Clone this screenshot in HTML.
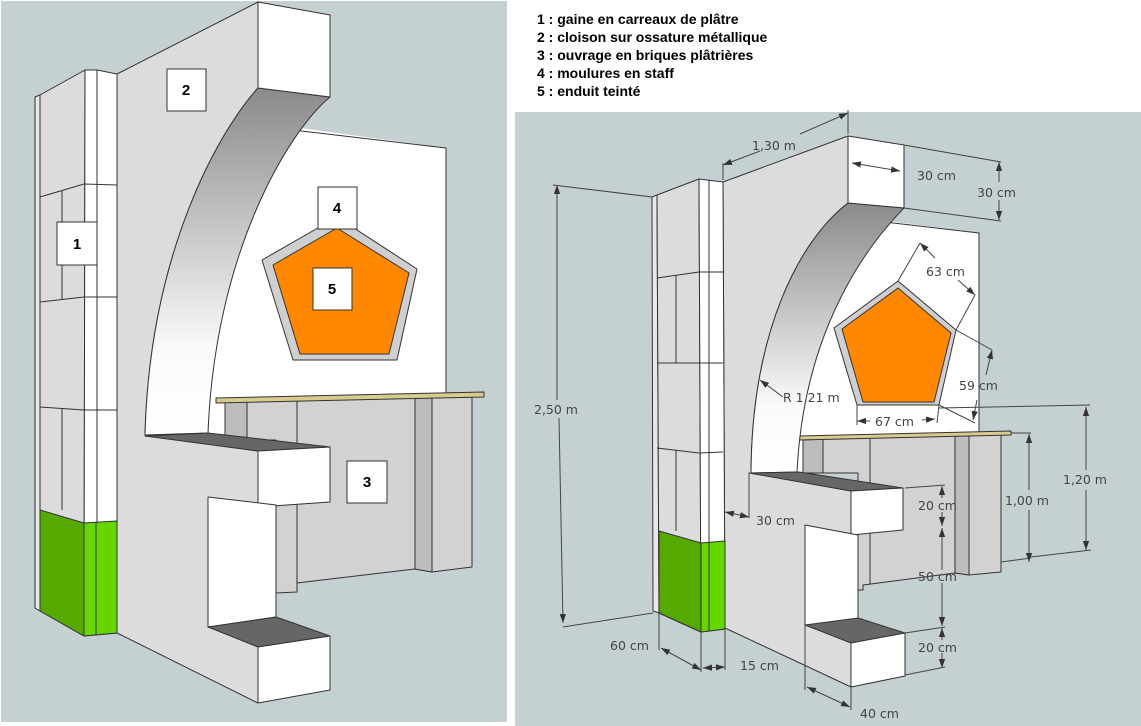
<!DOCTYPE html>
<html><head><meta charset="utf-8"><style>
html,body{margin:0;padding:0;background:#fff;width:1141px;height:726px;overflow:hidden}
svg{display:block}
.lg{font-family:"Liberation Sans",sans-serif;font-weight:bold;font-size:14px;fill:#000}
.dm{font-family:"DejaVu Sans","Liberation Sans",sans-serif;font-size:12.5px;fill:#444}
.lb{font-family:"Liberation Sans",sans-serif;font-weight:bold;font-size:15px;fill:#000}
</style></head><body>
<svg width="1141" height="726" viewBox="0 0 1141 726" xmlns="http://www.w3.org/2000/svg">
<defs>
<linearGradient id="gi" x1="0" y1="0" x2="0" y2="1"><stop offset="0" stop-color="#8a8a8a"/><stop offset="0.75" stop-color="#fafafa"/><stop offset="1" stop-color="#fff"/></linearGradient>
<marker id="a" viewBox="0 0 10 10" refX="10" refY="5" markerWidth="9" markerHeight="9" orient="auto-start-reverse" markerUnits="userSpaceOnUse"><path d="M0,1.5 L10,5 L0,8.5 Z" fill="#333"/></marker>
</defs>
<rect x="0" y="0" width="1141" height="726" fill="#fff"/>
<rect x="1" y="1" width="506" height="721" fill="#c5d0d2"/>
<rect x="515" y="112" width="626" height="614" fill="#c5d0d2"/>

<text class="lg" x="537" y="24">1 : gaine en carreaux de plâtre</text>
<text class="lg" x="537" y="42">2 : cloison sur ossature métallique</text>
<text class="lg" x="537" y="60">3 : ouvrage en briques plâtrières</text>
<text class="lg" x="537" y="78">4 : moulures en staff</text>
<text class="lg" x="537" y="96">5 : enduit teinté</text>

<g stroke="#333" stroke-width="1" stroke-linejoin="round">
<!-- ===== LEFT ===== -->
<polygon points="258,90 300,100 300,128 446,148 446,400 225,400 225,440 145,440" fill="#fff" stroke="none"/>
<polyline points="293,130 446,148 446,398" fill="none"/>
<polygon points="225,401 472,397 472,567 432,572 415,569 297,583 297,592 276,593 276,440 225,440" fill="#d2d2d2"/>
<polygon points="225,401 247,401 247,440 225,440" fill="#bdbdbd"/>
<polygon points="415,398 432,398 432,572 415,569" fill="#bdbdbd"/>
<line x1="297" y1="401" x2="297" y2="592"/>
<polygon points="216,398 484,392 484,397 216,403" fill="#d6cc8e"/>
<polygon points="262,260 337,217 417,269 397,360 293,360" fill="#cfcfcf"/>
<polygon points="273,265 337,228 409,273 389,354 300,354" fill="#ff8800"/>
<path d="M117,74 L258,2 L258,88 C220,130 150,250 145,435 L258,451 L258,703 L117,633 Z" fill="#dcdcdc"/>
<path d="M258,88 L330,97 C290,130 215,250 208,433 L145,435 C150,250 220,130 258,88 Z" fill="url(#gi)"/>
<polygon points="258,2 330,15 330,97 258,88" fill="#fff"/>
<polygon points="145,436 208,433 330,447 258,451" fill="#666"/>
<polygon points="258,451 330,447 330,502 258,507" fill="#fff"/>
<polygon points="208,497 276,505 276,617 208,627" fill="#fff"/>
<polygon points="208,627 276,617 330,636 258,647" fill="#666"/>
<polygon points="258,647 330,636 330,690 258,703" fill="#fff"/>
<polygon points="35,97 40,95 40,611 35,608" fill="#e8e8e8"/>
<polygon points="40,95 85,70 84,636 40,611" fill="#dcdcdc"/>
<polygon points="85,70 97,70 117,74 117,633 84,636" fill="#fff"/>
<line x1="97" y1="70" x2="97" y2="634"/>
<polyline points="40,197 84,184 117,185" fill="none"/>
<polyline points="40,302 84,297 117,297" fill="none"/>
<polyline points="40,407 84,410 117,410" fill="none"/>
<line x1="62" y1="191" x2="62" y2="300"/>
<line x1="62" y1="408" x2="62" y2="510"/>
<polygon points="40,510 84,523 84,636 40,611" fill="#55aa00"/>
<polygon points="84,523 117,521 117,633 84,636" fill="#66d600"/>
<line x1="96" y1="522" x2="96" y2="635"/>

<!-- ===== RIGHT ===== -->
<polygon points="848,205 880,210 880,220 979,233 979,436 803,438 803,473 751,473" fill="#fff" stroke="none"/>
<polyline points="885,222 979,233 979,436" fill="none"/>
<polygon points="803,440 1001,433 1001,572 969,575 955,573 863,585 863,590 858,590 858,473 803,473" fill="#d2d2d2"/>
<polygon points="803,440 823,439 823,473 803,473" fill="#bdbdbd"/>
<polygon points="955,434 969,434 969,575 955,573" fill="#bdbdbd"/>
<line x1="870" y1="437" x2="870" y2="584"/>
<polygon points="799,436 1011,431 1011,435 799,440" fill="#d6cc8e"/>
<polygon points="834,328 898,281 956,330 939,405 857,405" fill="#cfcfcf"/>
<polygon points="842,329 898,288 951,333 934,402 863,402" fill="#ff8800"/>
<path d="M723,182 L848,136 L848,203 C800,240 752,330 751,473 L851,491 L851,687 L725,628 Z" fill="#dcdcdc"/>
<path d="M848,203 L904,208 C885,228 805,310 797,472 L751,473 C752,330 800,240 848,203 Z" fill="url(#gi)"/>
<polygon points="848,136 904,145 904,208 848,203" fill="#fff"/>
<polygon points="749,473 799,472 903,488 851,491" fill="#666"/>
<polygon points="851,491 903,488 903,530 851,535" fill="#fff"/>
<polygon points="805,525 858,535 858,625 805,625" fill="#fff"/>
<polygon points="805,625 858,618 905,633 851,643" fill="#666"/>
<polygon points="851,643 905,633 905,676 851,687" fill="#fff"/>
<polygon points="652,197 657,195 659,613 653,611" fill="#e8e8e8"/>
<polygon points="657,195 699,179 701,632 659,613" fill="#dcdcdc"/>
<polygon points="699,179 723,182 725,629 701,632" fill="#fff"/>
<line x1="709" y1="180" x2="709" y2="631"/>
<polyline points="657,278 699,272 723,272" fill="none"/>
<polyline points="657,363 699,363 723,363" fill="none"/>
<polyline points="657,448 699,453 723,452" fill="none"/>
<line x1="676" y1="275" x2="676" y2="363"/>
<line x1="676" y1="450" x2="676" y2="531"/>
<polygon points="659,531 701,543 701,632 659,613" fill="#55aa00"/>
<polygon points="701,543 725,541 725,629 701,632" fill="#66d600"/>
<line x1="709" y1="542" x2="709" y2="631"/>
</g>

<!-- DIMENSIONS -->
<g stroke="#444" stroke-width="1" fill="none">
<line x1="723" y1="180" x2="723" y2="163"/><line x1="848" y1="134" x2="848" y2="110"/>
<line x1="760" y1="151" x2="723" y2="165" marker-end="url(#a)"/><line x1="800" y1="134" x2="848" y2="113" marker-end="url(#a)"/>
<line x1="852" y1="163" x2="900" y2="171" marker-start="url(#a)" marker-end="url(#a)"/>
<line x1="904" y1="145" x2="1001" y2="162"/><line x1="904" y1="208" x2="1001" y2="221"/>
<line x1="999" y1="182" x2="999" y2="162" marker-end="url(#a)"/><line x1="999" y1="200" x2="999" y2="220" marker-end="url(#a)"/>
<line x1="553" y1="185" x2="652" y2="197"/><line x1="557" y1="400" x2="557" y2="185" marker-end="url(#a)"/><line x1="559" y1="418" x2="563" y2="623" marker-end="url(#a)"/>
<line x1="563" y1="627" x2="653" y2="613"/>
<line x1="898" y1="281" x2="920" y2="243"/><line x1="935" y1="258" x2="920" y2="243" marker-end="url(#a)"/><line x1="958" y1="280" x2="975" y2="295" marker-end="url(#a)"/>
<line x1="975" y1="295" x2="956" y2="330"/>
<line x1="956" y1="330" x2="992" y2="350"/><line x1="986" y1="375" x2="992" y2="350" marker-end="url(#a)"/><line x1="977" y1="400" x2="973" y2="420" marker-end="url(#a)"/>
<line x1="939" y1="405" x2="975" y2="423"/>
<line x1="870" y1="421" x2="857" y2="421" marker-end="url(#a)"/><line x1="922" y1="420" x2="935" y2="419" marker-end="url(#a)"/>
<line x1="857" y1="405" x2="857" y2="425"/><line x1="939" y1="405" x2="937" y2="423"/>
<line x1="783" y1="397" x2="760" y2="380" marker-end="url(#a)"/>
<line x1="939" y1="408" x2="1090" y2="405"/><line x1="1086" y1="470" x2="1086" y2="407" marker-end="url(#a)"/><line x1="1086" y1="490" x2="1086" y2="550" marker-end="url(#a)"/>
<line x1="1031" y1="557" x2="1091" y2="550"/>
<line x1="1011" y1="433" x2="1031" y2="433"/><line x1="1029" y1="490" x2="1029" y2="434" marker-end="url(#a)"/><line x1="1029" y1="510" x2="1029" y2="562" marker-end="url(#a)"/>
<line x1="1001" y1="562" x2="1031" y2="558"/>
<line x1="905" y1="488" x2="945" y2="485"/><line x1="942" y1="498" x2="942" y2="486" marker-end="url(#a)"/><line x1="942" y1="512" x2="942" y2="526" marker-end="url(#a)"/>
<line x1="942" y1="570" x2="942" y2="528" marker-end="url(#a)"/><line x1="942" y1="583" x2="942" y2="626" marker-end="url(#a)"/>
<line x1="942" y1="640" x2="942" y2="628" marker-end="url(#a)"/><line x1="942" y1="653" x2="942" y2="668" marker-end="url(#a)"/>
<line x1="905" y1="675" x2="945" y2="667"/><line x1="905" y1="633" x2="945" y2="627"/>
<line x1="749" y1="473" x2="749" y2="518"/><line x1="725" y1="512" x2="749" y2="517" marker-start="url(#a)" marker-end="url(#a)"/>
<line x1="659" y1="613" x2="659" y2="650"/><line x1="701" y1="632" x2="701" y2="672"/><line x1="725" y1="629" x2="725" y2="670"/>
<line x1="661" y1="648" x2="701" y2="670" marker-start="url(#a)" marker-end="url(#a)"/><line x1="703" y1="668" x2="725" y2="667" marker-start="url(#a)" marker-end="url(#a)"/>
<line x1="805" y1="625" x2="805" y2="690"/><line x1="851" y1="687" x2="851" y2="710"/><line x1="807" y1="687" x2="850" y2="707" marker-start="url(#a)" marker-end="url(#a)"/>
</g>
<g class="dm">
<text x="752" y="150">1,30 m</text>
<text x="917" y="180">30 cm</text>
<text x="977" y="197">30 cm</text>
<text x="534" y="414">2,50 m</text>
<text x="926" y="276">63 cm</text>
<text x="959" y="390">59 cm</text>
<text x="875" y="426">67 cm</text>
<text x="783" y="402">R 1,21 m</text>
<text x="1063" y="484">1,20 m</text>
<text x="1005" y="505">1,00 m</text>
<text x="918" y="510">20 cm</text>
<text x="918" y="581">50 cm</text>
<text x="918" y="652">20 cm</text>
<text x="756" y="525">30 cm</text>
<text x="610" y="650">60 cm</text>
<text x="740" y="670">15 cm</text>
<text x="860" y="718">40 cm</text>
</g>

<g fill="#fff" stroke="#333">
<rect x="167" y="69" width="39" height="42"/>
<rect x="57" y="222" width="40" height="43"/>
<rect x="318" y="187" width="39" height="42"/>
<rect x="313" y="268" width="39" height="42"/>
<rect x="347" y="461" width="40" height="42"/>
</g>
<g class="lb" text-anchor="middle">
<text x="186" y="95">2</text>
<text x="77" y="249">1</text>
<text x="337" y="213">4</text>
<text x="332" y="294">5</text>
<text x="367" y="487">3</text>
</g>
</svg>
</body></html>
